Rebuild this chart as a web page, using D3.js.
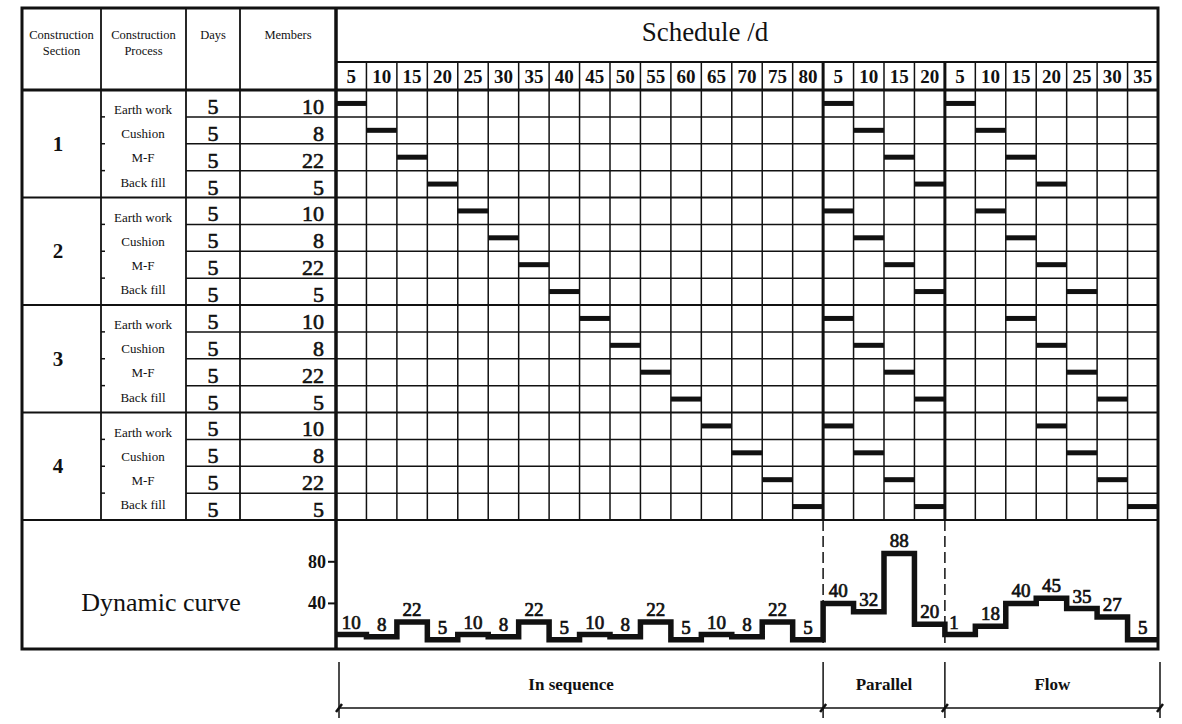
<!DOCTYPE html>
<html><head><meta charset="utf-8">
<script src="https://cdn.jsdelivr.net/npm/d3@7"></script>
<style>body{margin:0;background:#fff}svg{display:block}</style>
</head><body>
<script>
const sections = ["1","2","3","4"];
const processes = ["Earth work","Cushion","M-F","Back fill"];
const days = [5,5,5,5];
const members = [10,8,22,5];
const headers = [["Construction","Section"],["Construction","Process"],["Days"],["Members"]];
const seqTicks = [5,10,15,20,25,30,35,40,45,50,55,60,65,70,75,80];
const parTicks = [5,10,15,20];
const flowTicks = [5,10,15,20,25,30,35];
const curveSeq = [10,8,22,5,10,8,22,5,10,8,22,5,10,8,22,5];
const curvePar = [40,32,88,20];
const curveFlow = [10,18,40,45,35,27,5];
const labelsSeq = ["10","8","22","5","10","8","22","5","10","8","22","5","10","8","22","5"];
const labelsPar = ["40","32","88","20"];
const labelsFlow = ["1","18","40","45","35","27","5"];
const yTicks = [40,80];
const modes = ["In sequence","Parallel","Flow"];
const title = "Schedule /d";

const W=1182,H=724;
const svg=d3.select("body").append("svg").attr("width",W).attr("height",H);
const serif="'Liberation Serif','Times New Roman',serif";
const L=22,R=1158,T=8,headMid=62,headBot=90,gridBot=520,B=649;
const colX=[22,101,186,240,336];
const nCols=seqTicks.length+parTicks.length+flowTicks.length;
const x=d3.scaleLinear().domain([0,nCols]).range([336,R]);
const nRows=sections.length*processes.length;
const y=d3.scaleLinear().domain([0,nRows]).range([headBot,gridBot]);
const yc=d3.scaleLinear().domain([0,100]).range([645,541]);

const g=svg.append("g");
function line(x1,y1,x2,y2,w,dash){const l=g.append("line").attr("x1",x1).attr("y1",y1).attr("x2",x2).attr("y2",y2).attr("stroke","#111").attr("stroke-width",w);if(dash)l.attr("stroke-dasharray",dash);return l;}
function text(t,xx,yy,size,anchor,weight,heavy){const e=g.append("text").attr("x",xx).attr("y",yy).attr("font-family",serif).attr("font-size",size).attr("text-anchor",anchor||"middle").attr("font-weight",weight||"normal").attr("fill","#111").text(t);if(heavy)e.attr("stroke","#111").attr("stroke-width",heavy);return e;}

// grid vertical lines
for(let i=1;i<nCols;i++){line(x(i),headMid,x(i),gridBot,1.5);}
// row lines
for(let r=1;r<nRows;r++){
  const isSec=r%processes.length===0;
  line(isSec?L:colX[2],y(r),R,y(r),isSec?2:1.5);
  if(!isSec) line(colX[1],y(r),colX[1]+4,y(r),1.5);
}
line(L,headBot,R,headBot,3);
line(L,gridBot,R,gridBot,2);
line(336,headMid,R,headMid,2);
// left columns verticals
[colX[1],colX[2],colX[3]].forEach(xx=>line(xx,T,xx,gridBot,1.8));
// thick separators
line(336,T,336,B,3.5);
const pStart=seqTicks.length,fStart=pStart+parTicks.length;
line(x(pStart),headMid,x(pStart),gridBot,3);
line(x(fStart),headMid,x(fStart),gridBot,3);
// dashed in curve area
line(x(pStart),gridBot,x(pStart),B,1.5,"11,5");
line(x(fStart),gridBot,x(fStart),B,1.5,"11,5");
// outer border
g.append("rect").attr("x",L).attr("y",T).attr("width",R-L).attr("height",B-T).attr("fill","none").attr("stroke","#111").attr("stroke-width",3);

// headers
headers.forEach((h,i)=>{
  const cx=(colX[i]+colX[i+1])/2;
  h.forEach((t,j)=>text(t,cx,39+j*16,12.5));
});
text(title,705,41,27);
const allTicks=seqTicks.concat(parTicks,flowTicks);
allTicks.forEach((t,i)=>text(t,(x(i)+x(i+1))/2,83,19,"middle","bold"));

// left table content
sections.forEach((s,si)=>{
  const top=y(si*processes.length),bot=y((si+1)*processes.length);
  text(s,58,(top+bot)/2+7,21,"middle","bold");
  processes.forEach((p,pi)=>{
    const r=si*processes.length+pi;
    text(p,143,top+24+pi*24.2,13);
    text(days[pi],213,y(r+1)-3,22,"middle","normal",0.6);
    text(members[pi],324,y(r+1)-3,22,"end","normal",0.6);
  });
});

// bars
const bars=[];
sections.forEach((s,si)=>processes.forEach((p,pi)=>{
  const r=si*processes.length+pi;
  bars.push({r,c:r});                 // in sequence
  bars.push({r,c:pStart+pi});         // parallel
  bars.push({r,c:fStart+si+pi});      // flow
}));
g.selectAll("rect.bar").data(bars).join("rect").attr("class","bar")
  .attr("x",d=>x(d.c)).attr("width",d=>x(d.c+1)-x(d.c))
  .attr("y",d=>(y(d.r)+y(d.r+1))/2-2.5).attr("height",5).attr("fill","#111");

// dynamic curve
text("Dynamic curve",161,611,26);
yTicks.forEach(v=>{
  line(328,yc(v),336,yc(v),2);
  text(v,326,yc(v)+6,18,"end","bold");
});
const curve=curveSeq.concat(curvePar,curveFlow);
const labels=labelsSeq.concat(labelsPar,labelsFlow);
const pts=[];
curve.forEach((v,i)=>{pts.push([x(i),yc(v)]);pts.push([x(i+1),yc(v)]);});
g.append("path").attr("d",d3.line()(pts)).attr("fill","none").attr("stroke","#111").attr("stroke-width",5.5).attr("stroke-linejoin","miter");
curve.forEach((v,i)=>{
  let cx=(x(i)+x(i+1))/2;
  if(i===fStart) cx=x(i)+9;
  text(labels[i],cx,yc(v)-6,19,"middle","normal",0.7);
});

// bottom brackets
const bx=[x(0)+3,x(pStart),x(fStart),R+2];
bx.forEach(xx=>{
  line(xx,662,xx,718,1.5);
  line(xx-3,712,xx+3,704,2.5);
});
line(bx[0],708,bx[3],708,1.5);
modes.forEach((m,i)=>text(m,(bx[i]+bx[i+1])/2-(i===0?10:0),690,17,"middle","bold"));
</script>
</body></html>
